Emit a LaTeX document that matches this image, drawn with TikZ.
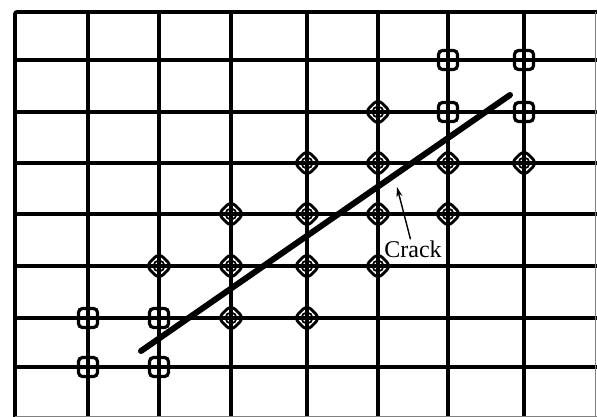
\documentclass[tikz,border=0pt]{standalone}
\usepackage{fontspec}
\setmainfont{Liberation Serif}
\usetikzlibrary{shapes.geometric, arrows.meta}

\begin{document}
\begin{tikzpicture}[x=1pt, y=-1pt,
    gridline/.style={line width=3.8pt},
    sqmark/.style={draw, line width=3.2pt, rounded corners=4pt, minimum size=19pt, inner sep=0pt},
    dmmark/.style={draw, diamond, line width=2.8pt, rounded corners=6pt, minimum size=27pt, inner sep=0pt},
    ringmark/.style={draw, circle, line width=1.8pt, minimum size=11pt, inner sep=0pt}]
  \useasboundingbox (0,0) rectangle (597,417);
  % 网格
  \foreach \x in {88,159,231,307,378,448,524}
    \draw[gridline] (\x,12) -- (\x,417);
  \foreach \y in {60,112,163,214,266,318,367}
    \draw[gridline] (15,\y) -- (597,\y);
  \draw[gridline, rounded corners=2pt] (15,417) -- (15,12) -- (597,12);
  \draw[gray, line width=1pt] (595.5,12) -- (595.5,417) (15,416) -- (597,416);
  % 方形标记
  \foreach \x/\y in {88/318,159/318,88/367,159/367,448/60,524/60,448/112,524/112}
    \node[sqmark] (s-\x-\y) at (\x,\y) {};
  % 菱形标记
  \foreach \x/\y in {378/112,307/163,378/163,448/163,524/163,231/214,307/214,378/214,448/214,
                     159/266,231/266,307/266,378/266,231/318,307/318} {
    \node[dmmark] (d-\x-\y) at (\x,\y) {};
    \node[ringmark] (r-\x-\y) at (\x,\y) {};
  }
  % 裂纹
  \coordinate (crackA) at (141,351);
  \coordinate (crackB) at (510,95);
  \draw[line width=6pt, line cap=round] (crackA) -- (crackB);
  % 标注
  \node[inner sep=1pt, font=\fontsize{24}{24}\selectfont] (crack) at (413,249) {Crack};
  \coordinate (tip) at (397,187);
  \draw[-{Stealth[length=10pt,width=6pt]}, line width=1.4pt] (crack) -- (tip);
\end{tikzpicture}
\end{document}
